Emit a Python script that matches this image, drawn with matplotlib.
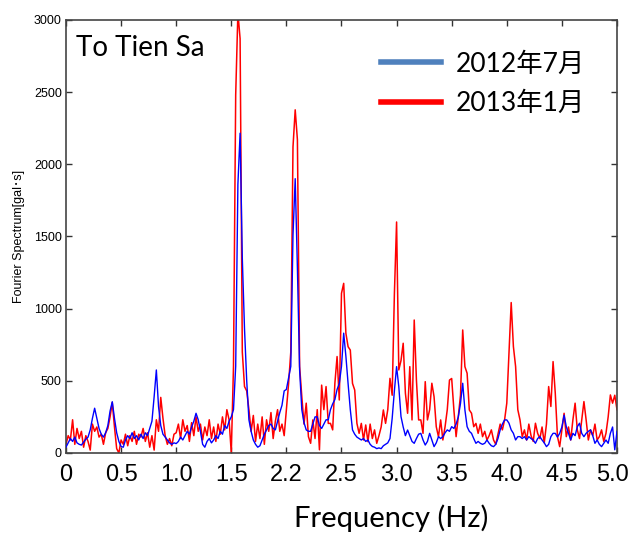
import numpy as np
import matplotlib
matplotlib.use("Agg")
import matplotlib.pyplot as plt
import matplotlib.transforms as mtransforms
from matplotlib.font_manager import FontProperties
from matplotlib.lines import Line2D

# frequency grid (Hz), 0.02 Hz step
freq = np.round(np.arange(251) * 0.02, 2)

# Fourier spectrum, July 2012 (blue)
spec_2012 = [
    40, 70, 100, 80, 110, 70, 60, 55, 75, 95,            # 0.00
    110, 160, 240, 310, 240, 170, 130, 110, 140, 190,    # 0.20
    290, 355, 240, 140, 80, 45, 40, 90, 120, 100,        # 0.40
    140, 100, 120, 90, 130, 100, 140, 120, 170, 220,     # 0.60
    390, 575, 320, 190, 130, 110, 90, 70, 60, 70,        # 0.80
    65, 80, 110, 90, 120, 150, 130, 180, 220, 275,       # 1.00
    230, 150, 60, 40, 80, 100, 70, 90, 120, 100,         # 1.20
    150, 130, 190, 170, 220, 250, 300, 600, 1860, 2215,  # 1.40
    1350, 860, 500, 230, 150, 90, 60, 40, 50, 90,        # 1.60
    130, 160, 190, 200, 170, 160, 220, 280, 330, 430,    # 1.80
    440, 520, 600, 1510, 1900, 1280, 575, 300, 210, 160, # 2.00
    150, 150, 200, 250, 250, 190, 170, 200, 230, 230,    # 2.20
    300, 340, 370, 440, 480, 600, 830, 670, 480, 300,    # 2.40
    160, 130, 110, 100, 90, 100, 80, 90, 60, 45,         # 2.60
    40, 30, 35, 30, 50, 60, 70, 100, 240, 430,           # 2.80
    598, 460, 252, 180, 120, 159, 120, 80, 67, 100,      # 3.00
    130, 136, 90, 55, 80, 136, 90, 44, 70, 113,          # 3.20
    100, 113, 140, 160, 150, 182, 170, 200, 250, 344,    # 3.40
    483, 298, 182, 150, 136, 100, 67, 80, 67, 60,        # 3.60
    67, 90, 67, 50, 44, 60, 100, 160, 200, 229,          # 3.80
    229, 206, 160, 136, 90, 113, 113, 100, 113, 90,      # 4.00
    113, 100, 90, 67, 100, 113, 90, 70, 44, 60,          # 4.20
    113, 136, 136, 110, 136, 180, 262, 182, 136, 90,     # 4.40
    136, 120, 182, 206, 136, 113, 136, 150, 160, 120,    # 4.60
    67, 90, 60, 44, 67, 90, 67, 136, 180, 22,            # 4.80
    150,                                                 # 5.00
]

# Fourier spectrum, January 2013 (red)
spec_2013 = [
    60, 120, 90, 230, 60, 170, 100, 150, 40, 120,        # 0.00
    80, 20, 200, 150, 180, 110, 130, 60, 140, 170,       # 0.20
    250, 350, 180, 30, 0, 90, 60, 130, 50, 120,          # 0.40
    80, 150, 60, 130, 110, 170, 80, 140, 40, 120,        # 0.60
    20, 230, 150, 385, 240, 120, 60, 100, 50, 130,       # 0.80
    140, 200, 100, 230, 150, 190, 80, 210, 120, 250,     # 1.00
    150, 200, 90, 180, 120, 230, 100, 180, 80, 200,      # 1.20
    130, 250, 160, 300, 230, 0, 600, 2480, 3050, 2870,   # 1.40
    700, 460, 430, 300, 150, 260, 80, 200, 100, 250,     # 1.60
    60, 230, 150, 280, 100, 220, 300, 150, 200, 120,     # 1.80
    300, 480, 700, 2120, 2377, 2170, 600, 390, 200, 345, # 2.00
    113, 67, 229, 100, 300, 22, 470, 300, 460, 205,      # 2.20
    205, 160, 482, 668, 367, 1106, 1175, 829, 736, 713,  # 2.40
    482, 436, 205, 136, 205, 90, 194, 78, 200, 100,      # 2.60
    160, 67, 120, 180, 298, 205, 300, 517, 400, 1100,    # 2.80
    1600, 575, 640, 760, 414, 275, 598, 229, 921, 505,   # 3.00
    229, 229, 136, 494, 229, 300, 483, 390, 182, 113,    # 3.20
    229, 90, 182, 300, 505, 516, 298, 113, 252, 400,     # 3.40
    852, 598, 552, 298, 275, 182, 205, 136, 200, 113,    # 3.60
    150, 90, 120, 160, 90, 60, 130, 200, 160, 229,       # 3.80
    345, 700, 1042, 737, 599, 300, 229, 113, 160, 90,    # 4.00
    200, 120, 80, 206, 136, 100, 180, 70, 200, 460,      # 4.20
    322, 633, 414, 113, 44, 160, 275, 113, 180, 90,      # 4.40
    230, 345, 160, 100, 229, 356, 229, 90, 160, 120,     # 4.60
    200, 90, 113, 160, 80, 136, 250, 402, 345, 400,      # 4.80
    300,                                                 # 5.00
]

xticks = [0, 0.5, 1.0, 1.5, 2.0, 2.5, 3.0, 3.5, 4.0, 4.5, 5.0]
xtick_labels = ["0", "0.5", "1.0", "1.5", "2.2", "2.5", "3.0", "3.5", "4.0", "4.5", "5.0"]
yticks = [0, 500, 1000, 1500, 2000, 2500, 3000]

fig = plt.figure(figsize=(6.29, 5.36), dpi=100)
ax = fig.add_axes([0.1049, 0.1549, 0.876, 0.808])

ax.plot(freq, spec_2013, color="red", lw=1.1, zorder=2)
ax.plot(freq, spec_2012, color="blue", lw=1.0, zorder=3)

ax.set_xlim(0, 5.0)
ax.set_ylim(0, 3000)

ax.set_xticks(xticks)
ax.set_xticklabels(xtick_labels, family=["Liberation Sans", "DejaVu Sans"], fontsize=17)
ax.set_yticks(yticks)
ax.set_yticklabels([str(v) for v in yticks], family=["Liberation Sans", "DejaVu Sans"], fontsize=9)
ax.tick_params(direction="in", top=True, right=True, length=4, width=1, color="#333333")
ax.tick_params(axis="x", pad=8)
ax.tick_params(axis="y", pad=3)
for s in ax.spines.values():
    s.set_color("#444444")
    s.set_linewidth(1.2)

# pull the last label in a bit so it stays on the canvas
last = ax.get_xticklabels()[-1]
last.set_transform(last.get_transform() + mtransforms.ScaledTranslation(-5 / 100, 0, fig.dpi_scale_trans))

ax.set_ylabel("Fourier Spectrum[gal･s]", family=["Liberation Sans", "Noto Sans CJK JP"],
              fontsize=9, labelpad=6)

fig.text(391 / 629, 0.034, "Frequency (Hz)", family=["Lato", "DejaVu Sans"],
         fontsize=21, ha="center", va="center")

ax.text(0.018, 0.935, "To Tien Sa", transform=ax.transAxes, family=["Lato", "DejaVu Sans"],
        fontsize=20, ha="left", va="center")

# legend: 2012 first with a steel-blue swatch, as in the original
handles = [Line2D([], [], color="#4f81bd", lw=4), Line2D([], [], color="red", lw=4)]
labels = ["2012年7月", "2013年1月"]
ax.legend(handles, labels, loc="upper right", bbox_to_anchor=(0.985, 0.982), frameon=False,
          prop=FontProperties(family=["Lato", "Noto Sans CJK JP"], size=19),
          handlelength=2.3, handletextpad=0.55, labelspacing=0.55)

fig.savefig("out.png", dpi=100)
